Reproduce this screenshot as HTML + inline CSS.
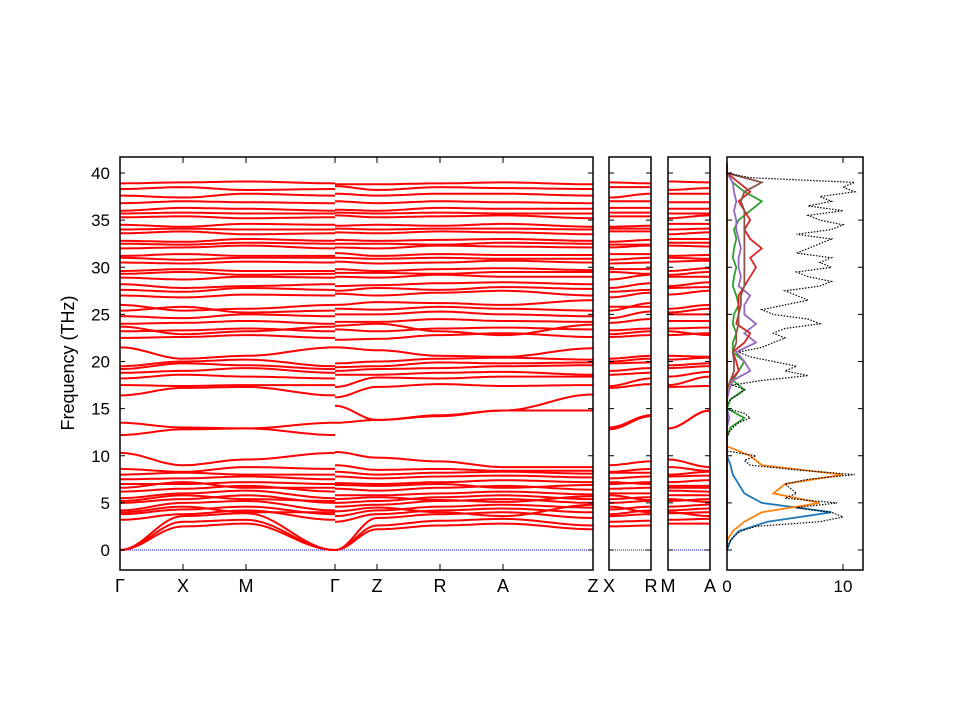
<!DOCTYPE html>
<html><head><meta charset="utf-8"><style>
html,body{margin:0;padding:0;background:#fff;}
svg{display:block;font-family:"Liberation Sans",sans-serif;}
</style></head><body>
<svg id="chart" width="960" height="720">
<g id="bands"></g>
<g id="dos"></g>
<g id="frames"></g>
<text x="0" y="0" transform="translate(74,363) rotate(-90)" text-anchor="middle" font-size="18">Frequency (THz)</text>
</svg>
<script>
// Band data: frequencies (THz) at nodes Γ, X, M, Γ, Z, R, A, Z
const kLabels = ["Γ","X","M","Γ","Z","R","A","Z"];
const bands = [
[0,2.5,2.8,0,2.2,2.6,2.8,2.2],
[0,3.0,3.2,0,2.6,3.1,3.3,2.6],
[0,3.6,3.9,0,3.4,3.8,4.0,3.4],
[3.2,3.8,4.2,3.0,3.8,4.2,4.4,4.0],
[3.8,4.3,4.6,3.6,4.2,4.6,4.8,4.5],
[4.0,4.6,4.0,4.1,4.5,4.0,3.6,4.8],
[4.2,5.0,5.2,4.6,4.8,5.2,5.4,5.0],
[5.0,5.4,5.8,5.0,5.2,5.6,5.8,5.4],
[5.2,5.8,5.4,5.4,5.6,5.3,5.1,5.7],
[5.5,6.0,6.3,5.8,5.8,6.0,6.2,5.9],
[6.2,6.5,6.8,6.5,6.3,6.6,6.8,6.4],
[6.6,7.2,6.6,6.9,6.8,7.0,6.6,6.9],
[7.0,7.0,7.2,7.1,7.0,7.2,7.4,7.2],
[7.5,7.6,7.8,7.8,7.6,7.8,7.9,7.7],
[8.0,8.2,8.0,8.3,8.0,8.2,8.3,8.1],
[8.6,8.3,8.8,9.0,8.5,8.6,8.4,8.4],
[10.3,9.0,9.6,10.4,9.8,9.4,8.8,8.8],
[12.2,12.8,12.9,13.5,13.8,14.2,14.8,16.5],
[13.5,13.0,12.9,15.3,13.8,14.3,14.8,14.8],
[16.4,17.2,17.3,16.2,17.3,17.6,17.4,17.5],
[17.5,17.4,17.5,17.3,18.3,18.2,18.4,18.4],
[18.2,18.6,18.4,18.6,18.6,18.8,18.9,18.6],
[18.8,19.0,19.3,19.0,19.2,19.3,19.5,19.6],
[19.2,19.8,19.6,19.4,19.5,19.9,19.8,19.9],
[19.5,20.0,20.2,19.8,20.0,20.3,20.4,20.2],
[21.5,20.3,20.6,21.5,21.2,20.6,20.5,21.4],
[22.5,22.6,22.8,22.3,22.4,22.8,23.0,22.6],
[23.2,23.3,23.5,23.4,23.2,23.5,23.6,23.4],
[23.7,22.9,23.2,23.8,24.0,23.2,22.8,23.9],
[24.0,24.1,24.3,24.2,24.2,24.5,24.3,24.2],
[24.8,24.6,25.0,25.0,25.0,25.3,25.0,24.8],
[25.4,25.8,25.2,25.6,25.5,25.8,25.6,25.4],
[26.0,25.4,25.6,26.0,26.3,26.2,26.0,26.5],
[27.0,26.8,27.1,27.2,27.0,27.3,27.5,27.0],
[27.6,27.4,27.8,27.5,27.8,27.6,27.9,27.7],
[28.2,27.8,28.0,28.0,28.1,28.3,28.4,28.2],
[28.9,28.7,29.0,29.0,28.9,29.2,29.0,29.0],
[29.3,29.5,29.2,29.4,29.4,29.3,29.5,29.5],
[29.6,29.8,29.6,29.8,29.6,29.8,29.9,29.7],
[30.5,30.4,30.6,30.6,30.4,30.5,30.7,30.5],
[31.0,30.8,31.0,31.0,30.9,31.0,30.9,30.9],
[31.2,31.4,31.2,31.5,31.2,31.4,31.3,31.3],
[32.0,32.1,32.3,32.1,32.0,32.3,32.2,32.1],
[32.5,32.4,32.6,32.5,32.5,32.4,32.6,32.5],
[32.8,32.7,33.0,32.9,32.8,32.9,33.0,32.8],
[33.6,33.8,33.5,33.7,33.6,33.8,33.7,33.5],
[34.0,34.1,34.0,34.1,34.0,34.1,34.1,34.0],
[34.5,34.3,34.6,34.4,34.5,34.4,34.6,34.3],
[35.3,35.4,35.2,35.5,35.3,35.4,35.5,35.2],
[35.7,35.8,35.7,35.8,35.7,35.8,35.7,35.7],
[36.0,36.3,36.2,36.1,36.0,36.3,36.2,36.2],
[36.8,37.0,36.9,37.0,36.8,37.0,36.9,36.8],
[37.6,37.4,37.8,37.8,37.6,37.8,37.8,37.6],
[38.3,38.5,38.2,38.6,38.2,38.5,38.4,38.3],
[38.9,39.0,39.1,38.8,38.8,38.9,39.0,38.8]
];
const yTicks = [0,5,10,15,20,25,30,35,40];
const dosTicks = [0,10];
// DOS total: step 0.5 THz from 0
const dosTotal = [0,0.1,0.3,0.6,1.2,2.5,8,10,9,6,9.5,5,6,5.5,5,7,11,6,2,1.5,2.5,0,0,0,0,0.2,0.5,1,2,1.5,0,0,0.3,1,1.5,0.5,3,7,5,6,4,2,1,3,4,5,4,5,8,7,4,3,5,7,6,5,8,9,7,6,9,8,9,6,7,8,9,6,9,10,8,7,10,7,9,8,11,10,11,2,0,0,0];
// Projected DOS: step 1 THz from 0
const dosBlue   = [0,0.3,1,3.5,9,3,1.5,1,0.5,0.3,0,0,0,0,0,0,0,0,0,0,0,0,0,0,0,0,0,0,0,0,0,0,0,0,0,0,0,0,0,0,0,0];
const dosOrange = [0,0,0.5,1.5,3,8,4,5,10,3,2,0,0,0,0,0,0,0,0,0,0,0,0,0,0,0,0,0,0,0,0,0,0,0,0,0,0,0,0,0,0,0];
const dosGreen  = [0,0,0,0,0,0,0,0,0,0,0,0,0,0.3,1.5,0,0.3,1.5,0.5,1,1.5,0.5,0.5,0.8,0.5,0.6,1,0.8,0.5,0.6,0.8,0.5,0.6,0.8,0.6,1,2,3,1.5,0.5,0,0];
const dosPurple = [0,0,0,0,0,0,0,0,0,0,0,0,0,0,0.2,0,0,0.2,0.5,2,1.5,0.8,2.5,1.5,2.5,1.5,1.5,2,1,1.2,1,1,1.2,1,0.8,0.8,0.6,0.8,0.6,0.5,0,0];
const dosRed    = [0,0,0,0,0,0,0,0,0,0,0,0,0,0,0,0,0,0,0.3,1,0.8,0.5,1.5,2,0.8,1,1,1,1.5,2,2.5,2,3,2,1.5,2,1.5,1,2,1,0,0];
const dosBrown  = [0,0,0,0,0,0,0,0,0,0,0,0,0,0,0,0,0,0,0.3,0.6,0.6,0.5,0.8,0.8,1,1,1.2,1.2,1.5,1.5,1.5,1.5,1.5,1.5,1.5,1.5,1.5,1.2,1.5,3,0,0];

const NS="http://www.w3.org/2000/svg";
const Y0=550, PX=9.425;
function yS(f){return Y0-f*PX;}
const nodeX=[120,183,246,335,377,440,503,593];
const P2=[609,651], P3=[668,710];
const DX0=727, DPX=11.6;
function dx(v){return DX0+v*DPX;}
const bandsG=document.getElementById('bands');
const dosG=document.getElementById('dos');
const frG=document.getElementById('frames');
function mk(tag,attrs,parent){const e=document.createElementNS(NS,tag);for(const k in attrs)e.setAttribute(k,attrs[k]);parent.appendChild(e);return e;}
function seg(x1,x2,f1,f2){
  let d="";const n=16;
  for(let i=0;i<=n;i++){const t=i/n;const s=(1-Math.cos(Math.PI*t))/2;
    d+=(i?"L":"M")+(x1+(x2-x1)*t).toFixed(1)+","+yS(f1+(f2-f1)*s).toFixed(1);}
  return d;
}
[[120,593],P2,P3].forEach(r=>{
  const l=mk('line',{x1:r[0],x2:r[1],y1:Y0,y2:Y0,stroke:'#00f','stroke-width':1,'stroke-dasharray':'1,1'},bandsG);
  
  
});
bands.forEach((b,bi)=>{
  let d="";
  d+=seg(nodeX[0],nodeX[1],b[0],b[1]);
  d+=seg(nodeX[1],nodeX[2],b[1],b[2]);
  d+=seg(nodeX[2],nodeX[3],b[2],b[0]);
  d+=seg(nodeX[3],nodeX[4],b[3],b[4]);
  d+=seg(nodeX[4],nodeX[5],b[4],b[5]);
  d+=seg(nodeX[5],nodeX[6],b[5],b[6]);
  d+=seg(nodeX[6],nodeX[7],b[6],b[7]);
  d+=seg(P2[0],P2[1],b[1],b[5]);
  d+=seg(P3[0],P3[1],b[2],b[6]);
  const p=mk('path',{d:d,fill:'none',stroke:'#f00','stroke-width':2},bandsG);
  
  
});
function dosPath(arr,step,color,name,dash){
  let d="M"+dx(0)+","+yS(0);
  arr.forEach((v,i)=>{d+="L"+dx(v).toFixed(1)+","+yS(i*step).toFixed(1);});
  const p=mk('path',{d:d,fill:'none',stroke:color,'stroke-width':dash?1.2:1.8},dosG);
  if(dash)p.setAttribute('stroke-dasharray','1.5,1.5');
  
  
}
dosPath(dosBlue,1,'#1f77b4','dos-blue',false);
dosPath(dosOrange,1,'#ff7f0e','dos-orange',false);
dosPath(dosGreen,1,'#2ca02c','dos-green',false);
dosPath(dosPurple,1,'#9467bd','dos-purple',false);
dosPath(dosRed,1,'#d62728','dos-red',false);
dosPath(dosBrown,1,'#8c564b','dos-brown',false);
dosPath(dosTotal,0.5,'#000','dos-total',true);
const panels=[[120,593,'main-panel'],[609,651,'xr-panel'],[668,710,'ma-panel'],[727,863,'dos-panel']];
panels.forEach(p=>{
  const r=mk('rect',{x:p[0],y:157,width:p[1]-p[0],height:413,fill:'none',stroke:'#000','stroke-width':1.5},frG);
  
  
  yTicks.forEach(t=>{
    mk('line',{x1:p[0],x2:p[0]+5,y1:yS(t),y2:yS(t),stroke:'#000'},frG);
    mk('line',{x1:p[1],x2:p[1]-5,y1:yS(t),y2:yS(t),stroke:'#000'},frG);
  });
});
yTicks.forEach(t=>{
  const tx=mk('text',{x:110,y:yS(t)+6,'text-anchor':'end','font-size':17},frG);
  tx.textContent=t;
  
  
});
kLabels.forEach((l,i)=>{
  if(i>0&&i<7){
    mk('line',{x1:nodeX[i],x2:nodeX[i],y1:157,y2:163,stroke:'#000'},frG);
    mk('line',{x1:nodeX[i],x2:nodeX[i],y1:570,y2:564,stroke:'#000'},frG);
  }
  const tx=mk('text',{x:nodeX[i],y:592,'text-anchor':'middle','font-size':18},frG);
  tx.textContent=l;
  
  
});
[[P2[0],"X"],[P2[1],"R"],[P3[0],"M"],[P3[1],"A"]].forEach(a=>{
  const tx=mk('text',{x:a[0],y:592,'text-anchor':'middle','font-size':18},frG);
  tx.textContent=a[1];
  
  
});
dosTicks.forEach(t=>{
  mk('line',{x1:dx(t),x2:dx(t),y1:570,y2:564,stroke:'#000'},frG);
  mk('line',{x1:dx(t),x2:dx(t),y1:157,y2:163,stroke:'#000'},frG);
  const tx=mk('text',{x:dx(t),y:592,'text-anchor':'middle','font-size':17},frG);
  tx.textContent=t;
  
  
});
</script>
</body></html>
